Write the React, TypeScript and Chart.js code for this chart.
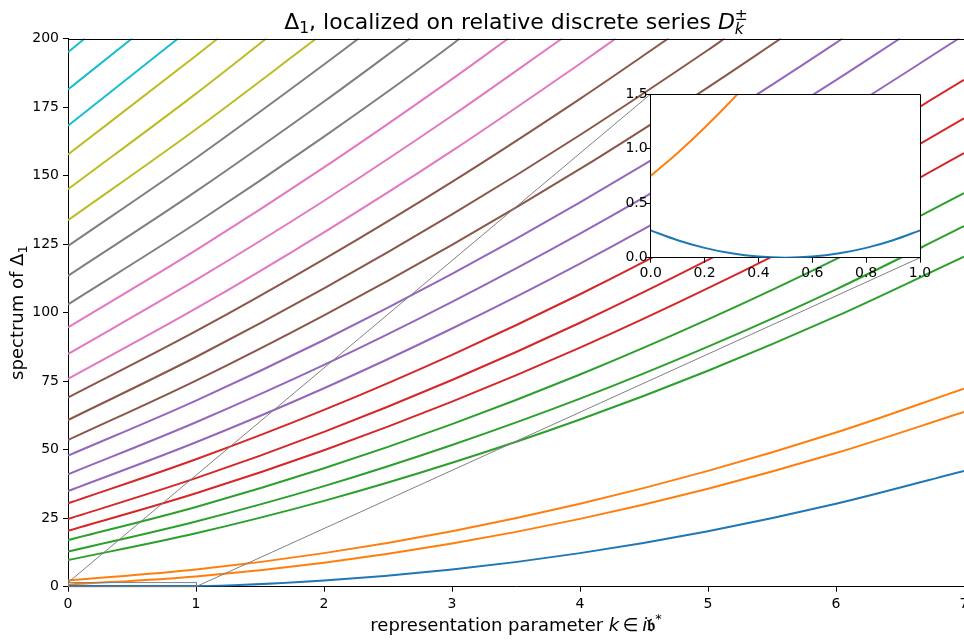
import React, { useEffect, useRef } from "react";
import { Chart, registerables } from "chart.js";

Chart.register(...registerables);

const FONT = '"DejaVu Sans", "Liberation Sans", sans-serif';

// ---- data ----
const K_GRID = [0, 1, 2, 3, 4, 5, 6, 7];
const Y_TOP = 200;
const INSET_X = [0, 1];
const INSET_Y = [0, 1.5];

const blueCurve = [0.25, 0.25, 2.25, 6.25, 12.25, 20.25, 30.25, 42.25];
const orangeCurves = [
  [0.75, 3.75, 8.75, 15.75, 24.75, 35.75, 48.75, 63.75],
  [2.25, 6.25, 12.25, 20.25, 30.25, 42.25, 56.25, 72.25],
];
const greenCurves = [
  [9.7, 19.5, 31.3, 45.2, 61.0, 78.8, 98.6, 120.4],
  [12.8, 23.8, 36.7, 51.7, 68.6, 87.6, 108.5, 131.5],
  [17.0, 29.1, 43.2, 59.3, 77.4, 97.5, 119.5, 143.6],
];
const redCurves = [
  [20.4, 34.1, 49.8, 67.5, 87.2, 108.9, 132.5, 158.2],
  [24.7, 39.6, 56.5, 75.4, 96.3, 119.2, 144.0, 170.9],
  [30.4, 46.5, 64.5, 84.6, 106.7, 130.8, 156.8, 184.9],
];
const purpleCurves = [
  [34.9, 52.7, 72.4, 94.2, 117.9, 143.7, 171.5],
  [41.0, 60.0, 80.9, 103.9, 128.8, 155.8, 184.8],
  [47.8, 67.9, 90.0, 114.1, 140.2, 168.3, 198.4],
];
const purpleExits = [6.96, 6.5, 6.05];
const brownCurves = [
  [53.5, 75.2, 99.0, 124.7, 152.4, 182.2],
  [60.8, 83.8, 108.8, 135.8, 164.8, 195.8],
  [69.0, 93.2, 119.5, 147.7, 178.0],
];
const brownExits = [5.57, 5.13, 4.69];
const pinkCurves = [
  [75.8, 101.5, 129.3, 159.0, 190.8],
  [84.9, 111.9, 140.8, 171.8],
  [94.6, 122.8, 153.0, 185.2],
];
const pinkExits = [4.28, 3.86, 3.44];
const grayCurves = [
  [103.0, 132.6, 164.2, 197.8],
  [113.4, 144.2, 177.0],
  [124.3, 156.4, 190.5],
];
const grayExits = [3.06, 2.67, 2.27];
const oliveCurves = [
  [133.7, 166.9],
  [145.0, 179.9],
  [157.7, 193.7],
];
const oliveExits = [1.94, 1.55, 1.17];
const cyanCurves = [[168.2], [181.4], [195.0]];
const cyanExits = [0.86, 0.5, 0.13];

// inset (zoomed) samples
const insetBlueK = [0, 0.1, 0.2, 0.3, 0.4, 0.5, 0.6, 0.7, 0.8, 0.9, 1.0];
const insetBlueV = [0.25, 0.16, 0.09, 0.04, 0.01, 0.0, 0.01, 0.04, 0.09, 0.16, 0.25];
const insetOrangeK = [0, 0.1, 0.2, 0.3, 0.4];
const insetOrangeV = [0.75, 0.96, 1.19, 1.44, 1.71];

const PALETTE = {
  blue: "#1f77b4",
  orange: "#ff7f0e",
  green: "#2ca02c",
  red: "#d62728",
  purple: "#9467bd",
  brown: "#8c564b",
  pink: "#e377c2",
  gray: "#7f7f7f",
  olive: "#bcbd22",
  cyan: "#17becf",
};

// ---- layout ----
const INSET_LEFT = 590;
const INSET_TOP = 80;

function buildPoints(values: number[], exit?: number) {
  const pts = values.map((v, i) => ({ x: K_GRID[i], y: v }));
  if (exit !== undefined) pts.push({ x: exit, y: Y_TOP });
  return pts;
}

function lineDs(data: { x: number; y: number }[], color: string) {
  return {
    data,
    borderColor: color,
    backgroundColor: color,
    borderWidth: 2,
    pointRadius: 0,
    fill: false,
    cubicInterpolationMode: "monotone" as const,
    clip: 0,
  };
}

type Seg = { t: string; f: string; dy?: number; stay?: boolean };

function drawSegs(ctx: CanvasRenderingContext2D, segs: Seg[], cx: number, by: number) {
  const widths: number[] = [];
  let total = 0;
  for (const s of segs) {
    ctx.font = s.f;
    const w = ctx.measureText(s.t).width;
    widths.push(w);
    if (!s.stay) total += w;
  }
  let x = cx - total / 2;
  segs.forEach((s, i) => {
    ctx.font = s.f;
    ctx.fillText(s.t, x, by + (s.dy || 0));
    if (!s.stay) x += widths[i];
  });
}

export default function App() {
  const mainRef = useRef<HTMLCanvasElement>(null);
  const insetRef = useRef<HTMLCanvasElement>(null);

  useEffect(() => {
    if (!mainRef.current || !insetRef.current) return;
    Chart.defaults.font.family = FONT;
    Chart.defaults.color = "#000";

    const axisCommon = {
      grid: { drawOnChartArea: false, drawTicks: true, tickLength: 5, color: "#000", lineWidth: 1 },
      border: { display: true, color: "#000", width: 1 },
    };

    // ---------- inset ----------
    const insetCanvasH = 205;
    const inset = new Chart(insetRef.current, {
      type: "line",
      data: {
        datasets: [
          lineDs(insetBlueK.map((k, i) => ({ x: k, y: insetBlueV[i] })), PALETTE.blue),
          lineDs(insetOrangeK.map((k, i) => ({ x: k, y: insetOrangeV[i] })), PALETTE.orange),
        ],
      },
      options: {
        animation: false,
        responsive: false,
        devicePixelRatio: 1,
        events: [],
        layout: { padding: { left: 0, right: 30, top: 14, bottom: 0 } },
        plugins: { legend: { display: false }, tooltip: { enabled: false }, title: { display: false } },
        scales: {
          x: {
            type: "linear",
            min: INSET_X[0],
            max: INSET_X[1],
            afterFit: (s: any) => {
              s.height = insetCanvasH - 177.7;
            },
            ticks: {
              stepSize: 0.2,
              autoSkip: false,
              maxRotation: 0,
              padding: 2.7,
              font: { size: 14, family: FONT },
              color: "#000",
              callback: (v: any) => Number(v).toFixed(1),
            },
            ...axisCommon,
          },
          y: {
            type: "linear",
            min: INSET_Y[0],
            max: INSET_Y[1],
            afterFit: (s: any) => {
              s.width = 60.7;
            },
            ticks: {
              stepSize: 0.5,
              autoSkip: false,
              padding: -2,
              font: { size: 14, family: FONT },
              color: "#000",
              callback: (v: any) => Number(v).toFixed(1),
            },
            ...axisCommon,
          },
        },
      },
      plugins: [
        {
          id: "insetFrame",
          beforeDraw(chart: any) {
            const { ctx, chartArea: ca } = chart;
            ctx.save();
            ctx.fillStyle = "#fff";
            ctx.fillRect(ca.left, ca.top, ca.right - ca.left, ca.bottom - ca.top);
            ctx.restore();
          },
          afterDraw(chart: any) {
            const { ctx, chartArea: ca } = chart;
            ctx.save();
            ctx.strokeStyle = "#000";
            ctx.lineWidth = 1;
            const t = Math.round(ca.top) + 0.5;
            const r = Math.round(ca.right) + 0.5;
            ctx.beginPath();
            ctx.moveTo(ca.left, t);
            ctx.lineTo(r, t);
            ctx.lineTo(r, ca.bottom);
            ctx.stroke();
            ctx.restore();
          },
        },
      ],
    } as any);

    // ---------- main ----------
    const datasets: any[] = [];
    datasets.push(lineDs(buildPoints(blueCurve), PALETTE.blue));
    orangeCurves.forEach((c) => datasets.push(lineDs(buildPoints(c), PALETTE.orange)));
    greenCurves.forEach((c) => datasets.push(lineDs(buildPoints(c), PALETTE.green)));
    redCurves.forEach((c) => datasets.push(lineDs(buildPoints(c), PALETTE.red)));
    purpleCurves.forEach((c, i) => datasets.push(lineDs(buildPoints(c, purpleExits[i]), PALETTE.purple)));
    brownCurves.forEach((c, i) => datasets.push(lineDs(buildPoints(c, brownExits[i]), PALETTE.brown)));
    pinkCurves.forEach((c, i) => datasets.push(lineDs(buildPoints(c, pinkExits[i]), PALETTE.pink)));
    grayCurves.forEach((c, i) => datasets.push(lineDs(buildPoints(c, grayExits[i]), PALETTE.gray)));
    oliveCurves.forEach((c, i) => datasets.push(lineDs(buildPoints(c, oliveExits[i]), PALETTE.olive)));
    cyanCurves.forEach((c, i) => datasets.push(lineDs(buildPoints(c, cyanExits[i]), PALETTE.cyan)));

    const mainH = 640;
    const main = new Chart(mainRef.current, {
      type: "line",
      data: { datasets },
      options: {
        animation: false,
        responsive: false,
        devicePixelRatio: 1,
        events: [],
        layout: { padding: { left: 0, right: 36, top: 38.5, bottom: 0 } },
        plugins: { legend: { display: false }, tooltip: { enabled: false }, title: { display: false } },
        scales: {
          x: {
            type: "linear",
            min: 0,
            max: 7,
            afterFit: (s: any) => {
              s.height = mainH - 586.7;
            },
            ticks: {
              stepSize: 1,
              autoSkip: false,
              maxRotation: 0,
              padding: 4,
              font: { size: 14, family: FONT },
              color: "#000",
            },
            ...axisCommon,
          },
          y: {
            type: "linear",
            min: 0,
            max: Y_TOP,
            afterFit: (s: any) => {
              s.width = 68;
            },
            ticks: {
              stepSize: 25,
              autoSkip: false,
              padding: 4,
              font: { size: 14, family: FONT },
              color: "#000",
            },
            ...axisCommon,
          },
        },
      },
      plugins: [
        {
          id: "decor",
          afterDraw(chart: any) {
            const { ctx, chartArea: ca, scales } = chart;
            const xs = scales.x;
            const ys = scales.y;
            ctx.save();
            // top / right spines
            ctx.strokeStyle = "#000";
            ctx.lineWidth = 1;
            const t = Math.round(ca.top) + 0.5;
            const r = Math.round(ca.right) + 0.5;
            ctx.beginPath();
            ctx.moveTo(ca.left, t);
            ctx.lineTo(r, t);
            ctx.lineTo(r, ca.bottom);
            ctx.stroke();

            // inset marker rectangle and connectors
            ctx.strokeStyle = "#808080";
            ctx.lineWidth = 1;
            const x0 = xs.getPixelForValue(INSET_X[0]);
            const x1 = xs.getPixelForValue(INSET_X[1]);
            const y0 = ys.getPixelForValue(INSET_Y[0]);
            const y1 = ys.getPixelForValue(INSET_Y[1]);
            ctx.strokeRect(x0 + 0.5, y1, x1 - x0, y0 - y1);
            const ia = inset.chartArea;
            if (ia) {
              ctx.beginPath();
              ctx.moveTo(x0, y1);
              ctx.lineTo(INSET_LEFT + ia.left, INSET_TOP + ia.top);
              ctx.moveTo(x1, y0);
              ctx.lineTo(INSET_LEFT + ia.right, INSET_TOP + ia.bottom);
              ctx.stroke();
            }

            // texts
            ctx.fillStyle = "#000";
            ctx.textBaseline = "alphabetic";
            ctx.textAlign = "left";
            const cx = (ca.left + ca.right) / 2;
            const cy = (ca.top + ca.bottom) / 2;
            const f = (size: number, style = "") => `${style} ${size}px ${FONT}`.trim();

            drawSegs(
              ctx,
              [
                { t: "Δ", f: f(22) },
                { t: "1", f: f(15.5), dy: 4 },
                { t: ", localized on relative discrete series ", f: f(22) },
                { t: "D", f: f(22, "italic") },
                { t: "k", f: f(15.5, "italic"), dy: 5, stay: true },
                { t: "±", f: f(15.5), dy: -9.5 },
              ],
              cx,
              29
            );

            drawSegs(
              ctx,
              [
                { t: "representation parameter ", f: f(18) },
                { t: "k", f: f(18, "italic") },
                { t: "\u2009∈\u2009", f: f(18) },
                { t: "i", f: f(18, "italic") },
                { t: "𝔟", f: `bold 18px "DejaVu Serif", "DejaVu Sans", serif` },
                { t: "*", f: f(13), dy: -8 },
              ],
              cx,
              631
            );

            ctx.save();
            ctx.translate(23, cy);
            ctx.rotate(-Math.PI / 2);
            drawSegs(
              ctx,
              [
                { t: "spectrum of Δ", f: f(18) },
                { t: "1", f: f(13), dy: 3.5 },
              ],
              0,
              0
            );
            ctx.restore();
            ctx.restore();
          },
        },
      ],
    } as any);

    return () => {
      main.destroy();
      inset.destroy();
    };
  }, []);

  return (
    <div
      style={{
        position: "fixed",
        left: 0,
        top: 0,
        width: 964,
        height: 640,
        overflow: "hidden",
        background: "#fff",
      }}
    >
      <canvas
        ref={mainRef}
        width={1000}
        height={640}
        style={{ position: "absolute", left: 0, top: 0, width: 1000, height: 640 }}
      />
      <canvas
        ref={insetRef}
        width={360}
        height={205}
        style={{ position: "absolute", left: INSET_LEFT, top: INSET_TOP, width: 360, height: 205 }}
      />
    </div>
  );
}
